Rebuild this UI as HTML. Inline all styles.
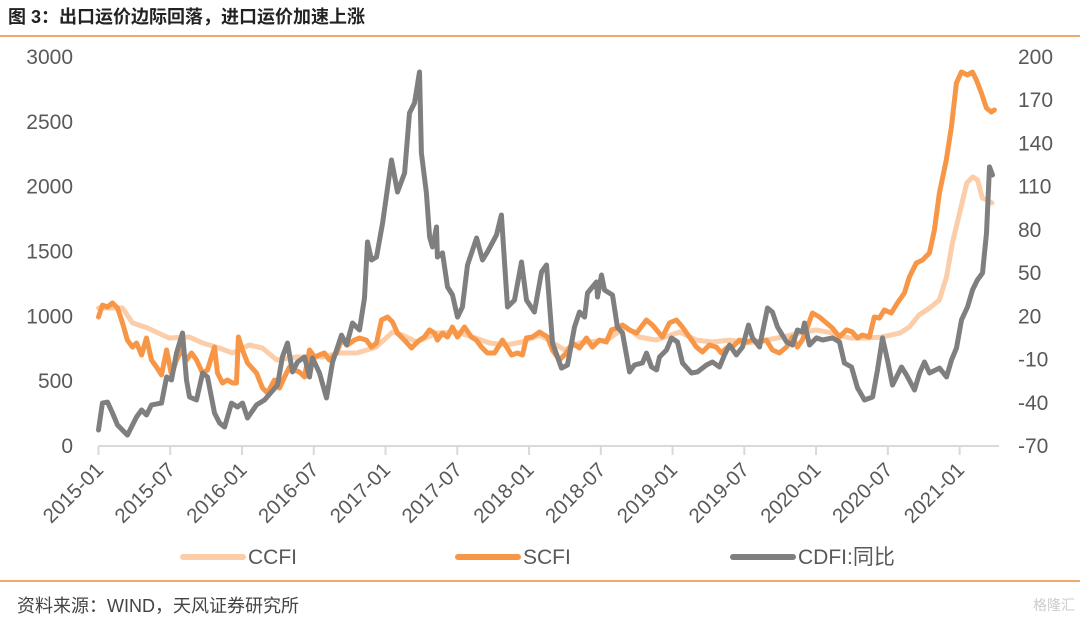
<!DOCTYPE html>
<html><head><meta charset="utf-8">
<style>
body{margin:0;background:#fff;width:1080px;height:618px;overflow:hidden;font-family:"Liberation Sans","Noto Sans CJK SC",sans-serif;}
</style></head>
<body>
<svg width="1080" height="618" xmlns="http://www.w3.org/2000/svg">
<text x="8" y="23" font-size="18" font-weight="bold" fill="#222" font-family="Liberation Sans, Noto Sans CJK SC, sans-serif">图 3：出口运价边际回落，进口运价加速上涨</text>
<line x1="0" y1="36" x2="1080" y2="36" stroke="#ED8B3A" stroke-width="1.5"/>
<line x1="0" y1="581" x2="1080" y2="581" stroke="#ED8B3A" stroke-width="1.5"/>
<text x="17" y="612" font-size="18" fill="#444" font-family="Liberation Sans, Noto Sans CJK SC, sans-serif">资料来源：WIND，天风证券研究所</text>
<text x="1075" y="610" font-size="14" fill="#ccc" text-anchor="end" font-family="Liberation Sans, Noto Sans CJK SC, sans-serif">格隆汇</text>
<g id="axes"></g>
<g id="plot"></g>
<g id="legend"></g>
</svg>
<script>
const leftTicks=[0,500,1000,1500,2000,2500,3000];
const rightTicks=[-70,-40,-10,20,50,80,110,140,170,200];
const xTickLabels=["2015-01","2015-07","2016-01","2016-07","2017-01","2017-07","2018-01","2018-07","2019-01","2019-07","2020-01","2020-07","2021-01"];
const ccfiT=[0,2.0,2.84,4.1,5.9,7.6,8.7,10.1,11.2,12.6,13.7,14.9,16.6,18.7,20.1,21.6,23.2,24.6,25.4,26.6,28.3,29.9,31.3,32.7,34.1,35.4,36.9,38.0,39.0,40.2,42.5,44.1,45.2,46.6,48.6,50.0,51.3,52.8,54.2,55.8,57.2,58.6,60.0,61.4,62.8,64.2,65.5,67.0,67.8,68.6,69.5,70.3,70.9,71.4,72.0,72.6,73.1,73.5,73.9,74.3,74.7];
const ccfiV=[1064,1064,949,910,833,841,794,756,717,779,756,663,686,686,717,717,763,879,856,802,871,879,841,794,779,802,856,794,740,794,817,918,841,817,879,817,802,817,794,817,841,871,895,871,833,833,841,871,918,1010,1064,1126,1303,1566,1797,2028,2075,2051,1913,1897,1874];
const scfiT=[0,.33,.75,1.17,1.59,2.01,2.42,2.84,3.18,3.6,4.01,4.43,4.85,5.27,5.69,6.1,6.52,6.94,7.36,7.78,8.19,8.7,9.11,9.7,9.95,10.37,10.78,11.2,11.54,11.7,12.04,12.46,13.21,13.71,14.13,14.71,15.13,15.55,15.97,16.39,16.8,17.22,17.64,18.06,18.48,18.89,19.31,19.9,20.32,20.82,21.4,21.82,22.4,22.82,23.24,23.66,24.16,24.58,25.0,25.58,26.17,26.58,26.84,27.25,27.67,28.09,28.34,28.76,29.18,29.59,30.01,30.6,31.18,31.6,32.02,32.52,33.11,33.78,34.53,35.03,35.45,35.78,36.28,36.87,37.54,37.95,38.54,39.12,39.63,40.21,40.8,41.3,41.88,42.47,42.89,43.39,43.81,44.39,44.98,45.81,46.31,47.15,47.74,48.32,48.82,49.41,49.99,50.49,51.08,51.66,52.08,52.5,53.0,53.59,54.17,54.67,55.26,55.84,56.35,56.93,57.52,58.02,58.44,58.85,59.27,59.69,60.28,60.86,61.36,61.95,62.53,63.03,63.45,63.87,64.46,64.87,65.29,65.71,66.29,66.8,67.38,67.8,68.38,68.89,69.47,69.89,70.31,70.89,71.31,71.73,72.15,72.65,73.07,73.4,73.82,74.24,74.65,74.91];
const scfiV=[995,1087,1072,1103,1064,949,817,763,794,702,833,663,609,548,740,548,663,740,663,717,663,563,586,763,563,486,509,486,486,841,740,640,563,447,409,509,447,532,609,586,571,532,740,686,702,717,663,717,817,779,817,833,817,763,794,972,995,956,871,817,756,794,817,841,895,871,817,871,841,918,841,918,841,817,763,717,717,817,702,717,702,833,841,879,841,740,663,717,794,756,833,763,817,802,895,910,933,895,871,972,933,841,949,972,918,841,763,725,779,763,717,756,763,817,802,817,802,817,740,717,763,841,763,817,918,1026,995,949,910,841,895,879,833,856,841,995,987,1049,1026,1103,1180,1303,1411,1434,1488,1666,1951,2206,2460,2799,2884,2861,2884,2823,2722,2607,2576,2591];
const cdfiT=[0,.33,.75,1.17,1.59,2.42,3.18,3.6,4.01,4.43,5.27,5.69,6.1,6.52,7.02,7.36,7.61,8.19,8.7,9.11,9.7,10.12,10.54,11.12,11.62,12.04,12.46,13.21,13.88,14.46,14.97,15.38,15.8,16.22,16.64,17.22,17.64,17.89,18.48,19.06,19.57,20.32,20.74,21.24,21.82,22.24,22.49,22.83,23.24,23.75,24.5,25.0,25.59,26.0,26.42,26.84,27.0,27.42,27.68,27.93,28.26,28.34,28.76,29.18,29.6,30.02,30.43,30.85,31.61,32.11,32.52,33.28,33.69,34.2,34.78,35.37,35.79,36.45,37.04,37.46,37.96,38.71,39.21,39.8,40.22,40.64,40.89,41.64,41.72,42.06,42.31,42.98,43.39,43.81,44.4,44.82,45.48,45.82,46.24,46.66,46.91,47.49,47.91,48.41,48.83,49.58,50.08,50.84,51.34,51.92,52.34,52.76,53.34,53.85,54.35,54.68,55.27,55.94,56.35,56.77,57.53,58.03,58.44,58.86,59.03,59.45,60.03,60.54,61.37,61.96,62.37,62.96,63.46,64.05,64.72,65.13,65.55,65.97,66.39,67.14,67.56,68.23,68.65,69.06,69.48,70.32,70.9,71.32,71.74,72.16,72.66,73.08,73.49,73.91,74.25,74.5,74.75];
const cdfiV=[-58.9,-40.2,-39.5,-47.1,-55.4,-62.4,-49.9,-45.0,-48.5,-41.5,-40.2,-22.1,-24.2,-5.5,8.4,-24.2,-36.0,-38.1,-19.3,-22.1,-47.1,-54.0,-56.8,-40.2,-42.9,-40.2,-50.6,-41.5,-38.1,-32.5,-27.7,-8.2,1.5,-18.6,-11.7,-8.2,-22.1,-8.9,-19.3,-36.7,-11.7,7.0,0.1,15.4,10.5,32.7,71.6,59.1,61.2,84.8,128.5,106.3,119.5,161.1,168.1,189.6,133.4,105.6,75.1,68.1,82.0,61.2,64.0,40.4,34.8,19.5,26.5,55.6,74.4,59.1,64.7,76.5,90.3,26.5,31.3,57.7,31.3,23.0,50.8,55.6,1.5,-15.9,-13.8,12.6,23.0,19.5,36.2,43.8,33.4,48.7,38.3,34.8,12.6,8.4,-18.6,-13.8,-12.4,-5.5,-15.2,-17.2,-8.2,-3.4,5.0,2.2,-12.4,-19.3,-18.6,-13.8,-11.7,-15.2,-6.8,0.1,-6.8,-1.3,14.0,5.0,-1.3,25.8,23.0,12.6,2.2,0.1,10.5,9.1,15.4,0.1,5.0,3.6,5.0,2.2,-12.4,-15.2,-29.7,-38.1,-36.0,-17.2,5.0,-10.3,-27.7,-15.2,-20.7,-31.1,-19.3,-11.7,-19.3,-15.9,-22.1,-10.3,-2.0,17.5,26.5,38.3,45.2,50.1,77.8,123.7,118.1];

const NS="http://www.w3.org/2000/svg";
const X0=98.5,PXM=11.96,YB=446,YT=57;
const xs=m=>X0+m*PXM;
const yl=v=>YB-(v-0)/3000*(YB-YT);
const yr=v=>YB-(v+70)/270*(YB-YT);
const axes=document.getElementById('axes'),plot=document.getElementById('plot'),legend=document.getElementById('legend');
function mk(tag,attrs,parent){const e=document.createElementNS(NS,tag);for(const k in attrs)e.setAttribute(k,attrs[k]);parent.appendChild(e);return e;}
const ff="Liberation Sans, Noto Sans CJK SC, sans-serif";
const base=mk('line',{x1:xs(0),y1:YB,x2:xs(75.3),y2:YB,stroke:'#d9d9d9','stroke-width':2},axes);


leftTicks.forEach(v=>{const t=mk('text',{x:73,y:yl(v)+7,'font-size':21,fill:'#595959','text-anchor':'end','font-family':ff},axes);t.textContent=v;

});
rightTicks.forEach(v=>{const t=mk('text',{x:1018,y:yr(v)+7,'font-size':21,fill:'#595959','font-family':ff},axes);t.textContent=v;

});
xTickLabels.forEach((s,i)=>{const x=xs(i*6);
const tk=mk('line',{x1:x,y1:YB,x2:x,y2:YB+9,stroke:'#d9d9d9','stroke-width':2},axes);


const t=mk('text',{x:0,y:0,'font-size':20.5,fill:'#595959','text-anchor':'end','font-family':ff,transform:`translate(${x+6},${YB+25}) rotate(-45)`},axes);t.textContent=s;

});
function line(T,V,yf,color,name){const d=T.map((t,i)=>(i?'L':'M')+xs(t).toFixed(1)+','+yf(V[i]).toFixed(1)).join('');
const p=mk('path',{d:d,fill:'none',stroke:color,'stroke-width':5,'stroke-linejoin':'round','stroke-linecap':'round'},plot);

}
line(ccfiT,ccfiV,yl,'#FBCDA8','ccfi-line');
line(scfiT,scfiV,yl,'#F79646','scfi-line');
line(cdfiT,cdfiV,yr,'#7F7F7F','cdfi-yoy-line');
[["CCFI","#FBCDA8",183],["SCFI","#F79646",458],["CDFI:同比","#7F7F7F",733]].forEach(([n,c,x])=>{
const l=mk('line',{x1:x,y1:557,x2:x+60,y2:557,stroke:c,'stroke-width':6,'stroke-linecap':'round'},legend);


const t=mk('text',{x:x+65,y:564,'font-size':21,fill:'#595959','font-family':ff},legend);t.textContent=n;

});
</script>
</body></html>
